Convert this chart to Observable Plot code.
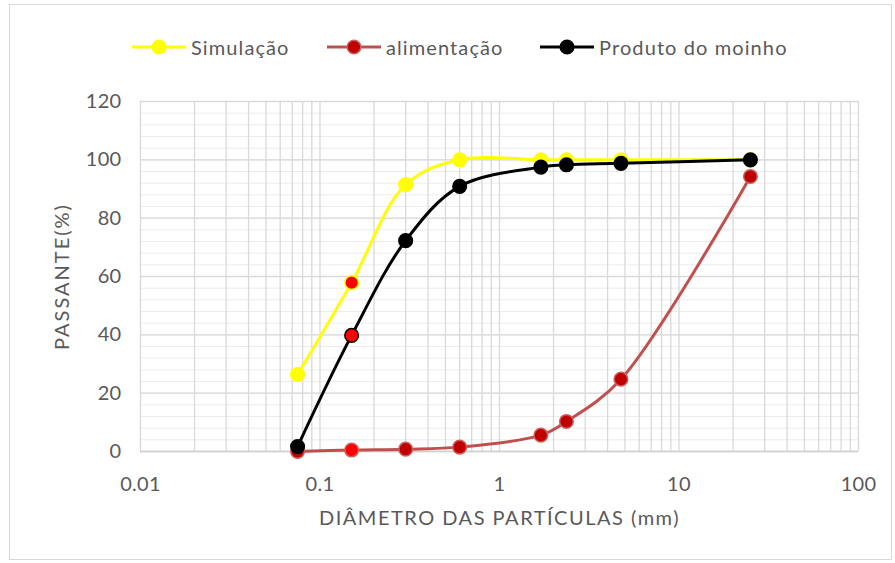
<!DOCTYPE html>
<html>
<head>
<meta charset="utf-8">
<script src="https://cdn.jsdelivr.net/npm/d3@7"></script>
<script src="https://cdn.jsdelivr.net/npm/@observablehq/plot@0.6"></script>
<style>
  html, body { margin: 0; padding: 0; background: #fff; }
  #chart { position: relative; width: 895px; height: 563px; overflow: hidden; font-family: Lato, "Open Sans", sans-serif; color: #595959; }
  #frame { position: absolute; left: 9px; top: 4px; width: 883px; height: 556px; border: 1px solid #d9d9d9; box-sizing: border-box; }
  #legend { position: absolute; left: 0; top: 35px; width: 895px; height: 24px; }
  .item { position: absolute; top: 0; display: flex; align-items: center; font-size: 20px; letter-spacing: 1.1px; height: 24px; }
  .item svg { margin-right: 5px; }
  #plot { position: absolute; left: 0; top: 0; }
  .xtitle text { letter-spacing: 1.5px; }
  .ytitle text { letter-spacing: 2px; }
  .ticklab text { letter-spacing: 0.3px; }
</style>
</head>
<body>
<div id="chart">
  <div id="frame"></div>
  <div id="plot"></div>
  <div id="legend"></div>
</div>
<script>
// Data
const diametro = [0.075, 0.15, 0.3, 0.6, 1.7, 2.36, 4.75, 25];
const simulacao = [26.4, 57.9, 91.5, 100, 100, 100, 100, 100];
const alimentacao = [0, 0.5, 0.8, 1.5, 5.6, 10.3, 24.8, 94.3];
const produto = [1.7, 39.8, 72.3, 90.9, 97.5, 98.3, 98.8, 100];
const seriesNames = ["Simulação", "alimentação", "Produto do moinho"];
const xTicks = [0.01, 0.1, 1, 10, 100];
const yTicks = [0, 20, 40, 60, 80, 100, 120];
const xTitle = "DIÂMETRO DAS PARTÍCULAS (mm)";
const yTitle = "PASSANTE(%)";

const styles = {
  "Simulação": {line: "#FFFF00", fill: "#FFFF00", stroke: "#FFFF00"},
  "alimentação": {line: "#C0504D", fill: "#C00000", stroke: "#C9605D"},
  "Produto do moinho": {line: "#000000", fill: "#000000", stroke: "#000000"}
};
const valuesBySeries = [simulacao, alimentacao, produto];
const rows = seriesNames.map((s, i) => diametro.map((d, j) => ({serie: s, d, v: valuesBySeries[i][j]})));

// log grid lines
const logGrid = [];
for (let k = -2; k <= 1; k++) for (let m = 1; m <= 9; m++) logGrid.push(m * Math.pow(10, k));
logGrid.push(100);
const minorY = d3.range(0, 121, 4);

const marks = [
  Plot.ruleY(minorY, {stroke: "#ececec", strokeWidth: 1}),
  Plot.ruleX(logGrid, {stroke: "#d9d9d9", strokeWidth: 1.3}),
  Plot.ruleY(yTicks, {stroke: "#d9d9d9", strokeWidth: 1.3}),
  Plot.ruleY([0], {stroke: "#d0d0d0", strokeWidth: 1.5}),
  Plot.axisX({ticks: xTicks, tickFormat: d => String(d), tickSize: 0, tickPadding: 25, label: null, fontSize: 20, className: "ticklab"}),
  Plot.axisY({ticks: yTicks, tickSize: 0, tickPadding: 19, label: null, fontSize: 20, className: "ticklab"}),
  Plot.text([xTitle], {frameAnchor: "bottom", dy: 73, fontSize: 20, fill: "#595959", className: "xtitle"}),
  Plot.text([yTitle], {frameAnchor: "left", textAnchor: "middle", dx: -78, rotate: -90, fontSize: 20, fill: "#595959", className: "ytitle"})
];

rows.forEach((data, i) => {
  const st = styles[seriesNames[i]];
  marks.push(Plot.line(data, {x: "d", y: "v", stroke: st.line, strokeWidth: 3, curve: "catmull-rom"}));
  marks.push(Plot.dot(data, {
    x: "d", y: "v", r: 6.8,
    fill: d => (d.d === 0.15 ? "#FF0000" : st.fill),
    stroke: st.stroke, strokeWidth: 1.5
  }));
});

const plot = Plot.plot({
  width: 895, height: 563,
  marginTop: 101, marginBottom: 112, marginLeft: 140, marginRight: 37,
  x: {type: "log", domain: [0.01, 100]},
  y: {domain: [0, 120]},
  style: {fontFamily: "Lato, 'Open Sans', sans-serif", fontSize: "20px", color: "#595959", background: "transparent"},
  marks
});
document.getElementById("plot").appendChild(plot);

// legend
const legend = document.getElementById("legend");
const legendX = [132, 327, 540];
seriesNames.forEach((s, i) => {
  const st = styles[s];
  const div = document.createElement("div");
  div.className = "item";
  div.style.left = legendX[i] + "px";
  div.innerHTML = `<svg width="54" height="24"><line x1="0" x2="54" y1="12" y2="12" stroke="${st.line}" stroke-width="3"/><circle cx="27" cy="12" r="6.8" fill="${st.fill}" stroke="${st.stroke}" stroke-width="1.5"/></svg><span>${s}</span>`;
  legend.appendChild(div);
});
</script>
</body>
</html>
